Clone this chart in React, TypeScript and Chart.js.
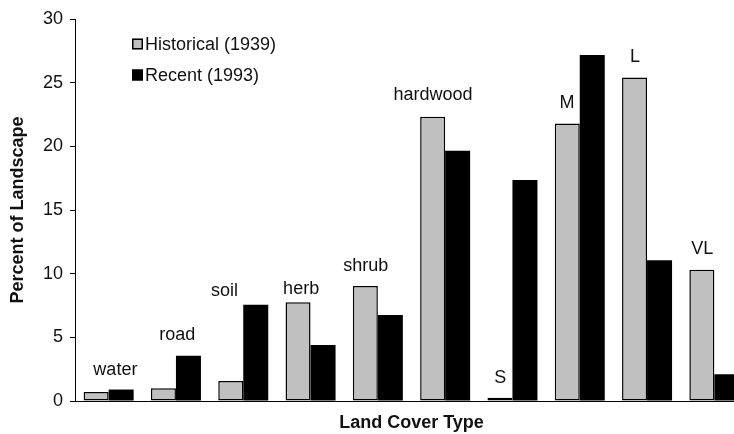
import React, { useEffect, useRef } from "react";
import { Chart, registerables } from "chart.js";

Chart.register(...registerables);

const categories = ["water", "road", "soil", "herb", "shrub", "hardwood", "S", "M", "L", "VL"];
const historical = [0.7, 1.0, 1.57, 7.75, 9.03, 22.33, 0.25, 21.8, 25.4, 10.3];
const recent = [0.9, 3.55, 7.55, 4.4, 6.75, 19.66, 17.36, 27.18, 11.05, 2.1];
const labelHeights = [2.4, 5.2, 8.6, 8.8, 10.6, 24.0, 1.8, 23.4, 27.0, 11.9];
const labelShift = [0.1, 0.02, -0.28, -0.14, -0.18, -0.18, -0.18, -0.19, -0.18, -0.18];
const yTicks = [0, 5, 10, 15, 20, 25, 30];
const seriesNames = ["Historical (1939)", "Recent (1993)"];

const FONT = "'Liberation Sans', Arial, Helvetica, sans-serif";
const GREY = "#c0c0c0";
const INK = "#111111";

const overlayPlugin = {
  id: "overlay",
  afterDatasetsDraw(chart: any) {
    const ctx = chart.ctx;
    const y = chart.scales.y;
    const x = chart.scales.x;
    const catW = x.getPixelForValue(1) - x.getPixelForValue(0);
    ctx.save();
    ctx.fillStyle = INK;
    ctx.font = `18px ${FONT}`;
    ctx.textAlign = "center";
    ctx.textBaseline = "middle";
    categories.forEach((c, i) => {
      const px = x.getPixelForValue(i) + labelShift[i] * catW;
      ctx.fillText(c, px, y.getPixelForValue(labelHeights[i]));
    });
    // legend
    const lx = 132;
    const rows = [44, 75];
    const fills = [GREY, "#000000"];
    ctx.textAlign = "left";
    rows.forEach((ry, i) => {
      ctx.fillStyle = fills[i];
      ctx.fillRect(lx, ry - 5.5, 11, 11);
      ctx.strokeStyle = "#000";
      ctx.lineWidth = 1.5;
      ctx.strokeRect(lx + 0.75, ry - 4.75, 9.5, 9.5);
      ctx.fillStyle = INK;
      ctx.fillText(seriesNames[i], lx + 13, ry + 1);
    });
    ctx.restore();
  },
};

export default function App() {
  const ref = useRef<HTMLCanvasElement>(null);
  useEffect(() => {
    if (!ref.current) return;
    const chart = new Chart(ref.current, {
      type: "bar",
      data: {
        labels: categories,
        datasets: [
          {
            label: seriesNames[0],
            data: historical,
            backgroundColor: GREY,
            borderColor: "#000",
            borderWidth: 1.5,
            borderSkipped: false,
            categoryPercentage: 0.743,
            barPercentage: 1.0,
          },
          {
            label: seriesNames[1],
            data: recent,
            backgroundColor: "#000",
            borderColor: "#000",
            borderWidth: 0,
            categoryPercentage: 0.743,
            barPercentage: 1.0,
          },
        ],
      },
      options: {
        animation: false,
        responsive: false,
        maintainAspectRatio: false,
        layout: { padding: { top: 19, right: 0, bottom: 0, left: 0 } },
        plugins: { legend: { display: false }, tooltip: { enabled: false } },
        scales: {
          x: {
            grid: { display: false },
            ticks: { display: false },
            border: { display: true, color: "#000", width: 1 },
            title: {
              display: true,
              text: "Land Cover Type",
              color: INK,
              font: { family: FONT, size: 18, weight: "bold" },
              padding: { top: 0, bottom: 0 },
            },
            afterFit: (s: any) => {
              s.height = 33;
            },
          },
          y: {
            min: 0,
            max: 30,
            afterBuildTicks: (s: any) => {
              s.ticks = yTicks.map((v) => ({ value: v }));
            },
            ticks: {
              color: INK,
              padding: 7,
              font: { family: FONT, size: 18 },
            },
            grid: {
              display: true,
              drawOnChartArea: false,
              drawTicks: true,
              tickLength: 5,
              color: "#000",
              lineWidth: 1,
            },
            border: { display: true, color: "#000", width: 1 },
            title: {
              display: true,
              text: "Percent of Landscape",
              color: INK,
              font: { family: FONT, size: 18, weight: "bold" },
              padding: { top: 7, bottom: 0 },
            },
            afterFit: (s: any) => {
              s.width = 75;
            },
          },
        },
      },
      plugins: [overlayPlugin],
    });
    return () => chart.destroy();
  }, []);
  return (
    <div
      style={{
        position: "fixed",
        left: 0,
        top: 0,
        width: 734,
        height: 434,
        overflow: "hidden",
        background: "#fff",
      }}
    >
      <canvas ref={ref} width={748} height={434} style={{ display: "block" }} />
    </div>
  );
}
